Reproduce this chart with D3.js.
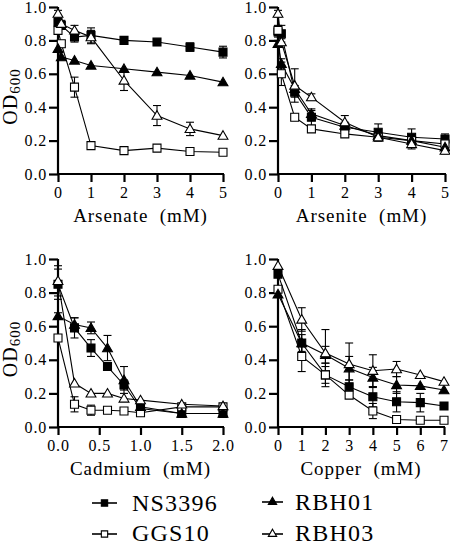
<!DOCTYPE html>
<html><head><meta charset="utf-8">
<script src="https://cdn.jsdelivr.net/npm/d3@7"></script>
<style>
html,body{margin:0;padding:0;background:#fff;}
svg text{font-family:"Liberation Serif",Tinos,Times,"DejaVu Serif","Noto Serif",serif !important;fill:#000;letter-spacing:0.05em;}
</style></head>
<body>
<svg id="chart" width="450" height="547"></svg>
<script>
// ---- data ----
const strains = ["NS3396", "GGS10", "RBH01", "RBH03"];
const yTickLabels = ["0.0", "0.2", "0.4", "0.6", "0.8", "1.0"];

const arsenateX = [0, 0.1, 0.5, 1, 2, 3, 4, 5];
const arsenateTicks = ["0", "1", "2", "3", "4", "5"];
const arsenateY = [
  [0.91, 0.89, 0.82, 0.83, 0.80, 0.79, 0.76, 0.73],
  [0.86, 0.78, 0.52, 0.17, 0.14, 0.155, 0.135, 0.13],
  [0.75, 0.70, 0.68, 0.65, 0.63, 0.61, 0.59, 0.55],
  [0.96, 0.90, 0.86, 0.82, 0.56, 0.35, 0.27, 0.23]
];
const arsenateErr = [
  [0.02, 0.02, 0.03, 0.045, 0.01, 0.01, 0.025, 0.035],
  [0.02, 0.02, 0.06, 0, 0, 0, 0, 0],
  [0, 0, 0, 0, 0, 0, 0, 0],
  [0.02, 0.02, 0.03, 0.04, 0.06, 0.06, 0.04, 0]
];

const arseniteX = [0, 0.1, 0.5, 1, 2, 3, 4, 5];
const arseniteTicks = ["0", "1", "2", "3", "4", "5"];
const arseniteY = [
  [0.85, 0.84, 0.49, 0.34, 0.28, 0.25, 0.22, 0.21],
  [0.86, 0.60, 0.34, 0.27, 0.24, 0.22, 0.20, 0.18],
  [0.78, 0.66, 0.51, 0.36, 0.29, 0.23, 0.20, 0.16],
  [0.96, 0.79, 0.53, 0.46, 0.31, 0.22, 0.18, 0.14]
];
const arseniteErr = [
  [0.03, 0.05, 0.03, 0.05, 0.02, 0.05, 0.05, 0.03],
  [0.03, 0.07, 0.02, 0.01, 0.01, 0.01, 0.01, 0.01],
  [0.02, 0.03, 0.02, 0.02, 0.02, 0.02, 0.02, 0.02],
  [0.02, 0.02, 0.10, 0.02, 0.04, 0.02, 0.03, 0.02]
];

const cadmiumX = [0, 0.2, 0.4, 0.6, 0.8, 1.0, 1.5, 2.0];
const cadmiumTicks = ["0.0", "0.5", "1.0", "1.5", "2.0"];
const cadmiumY = [
  [0.85, 0.59, 0.47, 0.36, 0.25, 0.11, 0.08, 0.08],
  [0.53, 0.135, 0.10, 0.10, 0.095, 0.085, 0.12, 0.12],
  [0.66, 0.61, 0.59, 0.47, 0.28, 0.12, 0.08, 0.08],
  [0.87, 0.26, 0.20, 0.20, 0.17, 0.16, 0.135, 0.125]
];
const cadmiumErr = [
  [0.09, 0.06, 0.05, 0.02, 0.03, 0.01, 0.01, 0.01],
  [0.02, 0.045, 0.03, 0.01, 0.01, 0.01, 0.01, 0.01],
  [0.02, 0.04, 0.035, 0.075, 0.08, 0.01, 0.01, 0.01],
  [0.09, 0.01, 0.01, 0.01, 0.01, 0.01, 0.01, 0.01]
];

const copperX = [0, 1, 2, 3, 4, 5, 6, 7];
const copperTicks = ["0", "1", "2", "3", "4", "5", "6", "7"];
const copperY = [
  [0.91, 0.50, 0.31, 0.24, 0.18, 0.15, 0.145, 0.125],
  [0.82, 0.42, 0.31, 0.19, 0.095, 0.045, 0.04, 0.04],
  [0.79, 0.50, 0.43, 0.35, 0.295, 0.25, 0.245, 0.22],
  [0.96, 0.64, 0.44, 0.375, 0.335, 0.345, 0.31, 0.27]
];
const copperErr = [
  [0.02, 0.08, 0.05, 0.04, 0.06, 0.06, 0.055, 0.02],
  [0.01, 0.09, 0.07, 0.02, 0.045, 0.01, 0.01, 0.01],
  [0.01, 0.05, 0.05, 0.07, 0.06, 0.05, 0.01, 0.01],
  [0.01, 0.07, 0.14, 0.125, 0.095, 0.045, 0.01, 0.01]
];

// ---- layout ----
const panels = [
  {title: "Arsenate  (mM)", x: arsenateX, ticks: arsenateTicks, tickVals: [0,1,2,3,4,5], xmax: 5, y: arsenateY, err: arsenateErr, x0: 58, x1: 223, yTop: 7, yBot: 174, ylab: true},
  {title: "Arsenite  (mM)", x: arseniteX, ticks: arseniteTicks, tickVals: [0,1,2,3,4,5], xmax: 5, y: arseniteY, err: arseniteErr, x0: 278, x1: 445, yTop: 7, yBot: 174, ylab: false},
  {title: "Cadmium  (mM)", x: cadmiumX, ticks: cadmiumTicks, tickVals: [0,0.5,1,1.5,2], xmax: 2, y: cadmiumY, err: cadmiumErr, x0: 58, x1: 223, yTop: 259, yBot: 427, ylab: true},
  {title: "Copper  (mM)", x: copperX, ticks: copperTicks, tickVals: [0,1,2,3,4,5,6,7], xmax: 7, y: copperY, err: copperErr, x0: 278, x1: 444, yTop: 259, yBot: 427, ylab: false}
];

const FONT = '"Liberation Serif", Tinos, Times, "DejaVu Serif", serif';
const svg = d3.select("#chart");
const symSquare = d3.symbol().type(d3.symbolSquare).size(64);
const symTri = d3.symbol().type(d3.symbolTriangle).size(42);
const filled = [true, false, true, false];
const isTri = [false, false, true, true];

panels.forEach(p => {
  const xs = d3.scaleLinear().domain([0, p.xmax]).range([p.x0, p.x1]);
  const ys = d3.scaleLinear().domain([0, 1]).range([p.yBot, p.yTop]);
  const g = svg.append("g");

  // axes
  const yAxis = d3.axisLeft(ys).tickValues([0,0.2,0.4,0.6,0.8,1.0]).tickFormat((d,i) => yTickLabels[i]).tickSizeInner(9).tickSizeOuter(0).tickPadding(2);
  const xAxis = d3.axisBottom(xs).tickValues(p.tickVals).tickFormat((d,i) => p.ticks[i]).tickSizeInner(8).tickSizeOuter(0).tickPadding(5);
  const gy = g.append("g").attr("transform", `translate(${p.x0},0)`).call(yAxis);
  const gx = g.append("g").attr("transform", `translate(0,${p.yBot})`).call(xAxis);
  [gx, gy].forEach(a => {
    a.attr("font-family", FONT);
    a.selectAll("path.domain").attr("stroke", "#000").attr("stroke-width", 2.2);
    a.selectAll(".tick line").attr("stroke", "#000").attr("stroke-width", 2.2);
    a.selectAll("text").attr("font-size", 16).attr("font-family", FONT).attr("fill", "#000");
  });
  gy.select("path.domain").attr("d", `M0,${p.yBot + 1}V${p.yTop}`);
  gx.select("path.domain").attr("d", `M${p.x0 - 1},0H${p.x1 + 1}`);

  // axis title
  g.append("text").attr("x", (p.x0 + p.x1) / 2).attr("y", p.yBot + 48).attr("font-family", FONT)
    .attr("text-anchor", "middle").attr("font-size", 19).style("white-space", "pre").text(p.title);

  if (p.ylab) {
    const t = g.append("text").attr("transform", `translate(17,${(p.yTop + p.yBot) / 2 + 6}) rotate(-90)`)
      .attr("text-anchor", "middle").attr("font-size", 20).attr("font-family", FONT);
    t.append("tspan").text("OD");
    t.append("tspan").attr("font-size", 15).attr("dy", 3).text("600");
  }

  // lines + error bars
  p.y.forEach((vals, si) => {
    const pts = p.x.map((xv, i) => [xv, vals[i], p.err[si][i]]);
    g.append("path").datum(pts)
      .attr("d", d3.line().x(d => xs(d[0])).y(d => ys(d[1])))
      .attr("fill", "none").attr("stroke", "#000").attr("stroke-width", 1.1);
    pts.filter(d => d[2] > 0.015).forEach(d => {
      const cx = xs(d[0]);
      const eb = g.append("g").attr("stroke", "#000").attr("stroke-width", 1.1);
      eb.append("line").attr("x1", cx).attr("x2", cx).attr("y1", ys(d[1] - d[2])).attr("y2", ys(d[1] + d[2]));
      eb.append("line").attr("x1", cx - 4).attr("x2", cx + 4).attr("y1", ys(d[1] + d[2])).attr("y2", ys(d[1] + d[2]));
      eb.append("line").attr("x1", cx - 4).attr("x2", cx + 4).attr("y1", ys(d[1] - d[2])).attr("y2", ys(d[1] - d[2]));
    });
  });
  // markers
  p.y.forEach((vals, si) => {
    g.selectAll(null).data(p.x.map((xv, i) => [xv, vals[i]])).enter().append("path")
      .attr("transform", d => `translate(${xs(d[0])},${ys(d[1]) + (isTri[si] ? 0.8 : 0)})`)
      .attr("d", isTri[si] ? symTri() : symSquare())
      .attr("fill", filled[si] ? "#000" : "#fff")
      .attr("stroke", "#000").attr("stroke-width", 1.1);
  });
});

// legend
const legendPos = [[92, 503, 132, 511], [92, 534, 132, 541], [262, 502, 295, 510], [262, 534, 295, 541]];
const legSquare = d3.symbol().type(d3.symbolSquare).size(40);
const legTri = d3.symbol().type(d3.symbolTriangle).size(30);
strains.forEach((s, i) => {
  const [lx, ly, tx, ty] = legendPos[i];
  const w = i < 2 ? 25 : 21;
  const lg = svg.append("g");
  lg.append("line").attr("x1", lx).attr("x2", lx + w).attr("y1", ly).attr("y2", ly).attr("stroke", "#000").attr("stroke-width", 1.6);
  lg.append("path").attr("transform", `translate(${lx + w / 2},${ly})`)
    .attr("d", isTri[i] ? legTri() : legSquare())
    .attr("fill", filled[i] ? "#000" : "#fff").attr("stroke", "#000").attr("stroke-width", 1.1);
  lg.append("text").attr("x", tx).attr("y", ty).attr("font-size", 24).attr("font-family", FONT).text(s);
});
</script>
</body></html>
